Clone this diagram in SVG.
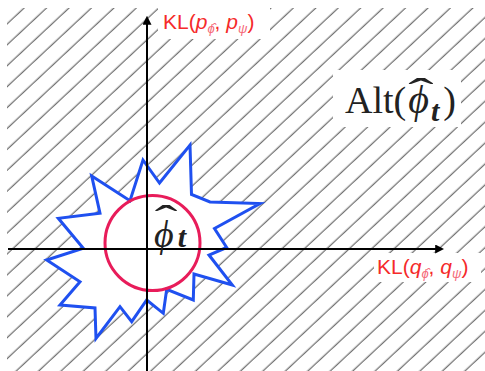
<svg xmlns="http://www.w3.org/2000/svg" width="485" height="371" viewBox="0 0 485 371">
<style>
.hatchbg{fill:url(#hatch)}
.mask{fill:#fff}
.star{fill:#fff;stroke:#1f50f0;stroke-width:3;stroke-linejoin:miter}
.circ{fill:none;stroke:#e81c5a;stroke-width:3}
.axis{stroke:#000;stroke-width:2;fill:none}
.kl{font-family:"Liberation Sans",Arial,sans-serif;font-size:21px;fill:#f52a2a}
.it{font-style:italic}
.sub{font-size:13px;fill:#f56a7a}
.serif{font-family:"Liberation Serif","DejaVu Serif",serif;fill:#222}
.hat{font-family:"Liberation Serif","DejaVu Serif",serif;fill:#222;font-size:40px;text-anchor:middle}
</style>
<defs>
<pattern id="hatch" patternUnits="userSpaceOnUse" width="40" height="15.3" patternTransform="rotate(-43)">
<line x1="-5" y1="7" x2="45" y2="7" stroke="#444" stroke-width="1"/>
</pattern>
<marker id="arr" viewBox="0 0 10 10" refX="2" refY="5" markerWidth="4.5" markerHeight="4.5" orient="auto" markerUnits="strokeWidth">
<path d="M0,0 L10,5 L0,10 z" fill="#000"/>
</marker>
</defs>
<rect width="485" height="371" fill="#fff"/>
<rect id="hatched-area" class="hatchbg" x="7" y="8" width="478" height="363"/>
<g id="alt-label">
<rect class="mask" x="333" y="70" width="128" height="57"/>
<text class="serif" x="345" y="113" font-size="38">Alt(<tspan font-style="italic" font-size="40" dx="2">ϕ</tspan><tspan font-style="italic" font-weight="bold" font-size="30" dy="8" dx="2">t</tspan><tspan dy="-8" dx="4">)</tspan></text>
<text class="hat" transform="translate(421,106) scale(1.9,1)" x="0" y="0">ˆ</text>
</g>
<g id="kl-p-label">
<rect class="mask" x="158" y="8" width="112" height="31"/>
<text class="kl" x="163" y="29">KL(<tspan class="it">p</tspan><tspan class="sub it" dy="4">ϕ̂</tspan><tspan dy="-4">, </tspan><tspan class="it">p</tspan><tspan class="sub it" dy="4">ψ</tspan><tspan dy="-4">)</tspan></text>
</g>
<g id="kl-q-label">
<rect class="mask" x="374" y="253" width="107" height="29"/>
<text class="kl" x="377" y="274">KL(<tspan class="it">q</tspan><tspan class="sub it" dy="4">ϕ̂</tspan><tspan dy="-4">, </tspan><tspan class="it">q</tspan><tspan class="sub it" dy="4">ψ</tspan><tspan dy="-4">)</tspan></text>
</g>
<g id="alt-region">
<polygon class="star" points="143,160 159.5,183 190,145 191.5,194.5 210,202 260,203.5 214.5,228.5 226.7,247.5 209,255 232.3,285 194,274 193.3,300 166.7,289.3 163.3,313.3 146.7,300 131.7,321.7 120,306.7 96,338.5 95,308 60,305 80,281.7 46.7,260 83.3,248.3 58.3,218.3 100,213.3 91.7,176 130,200.7"/>
</g>
<g id="phi-t">
<circle class="circ" cx="152.5" cy="243" r="47.5"/>
</g>
<g id="connectors">
<line class="axis" x1="8" y1="249" x2="437" y2="249" marker-end="url(#arr)"/>
<line class="axis" x1="147" y1="371" x2="147" y2="23" marker-end="url(#arr)"/>
</g>
<g id="phi-t-label">
<text class="serif" x="154" y="247" font-size="38" font-style="italic">ϕ<tspan font-weight="bold" font-size="30" dx="4">t</tspan></text>
<text class="hat" transform="translate(166,233) scale(1.7,1)" x="0" y="0">ˆ</text>
</g>
</svg>
